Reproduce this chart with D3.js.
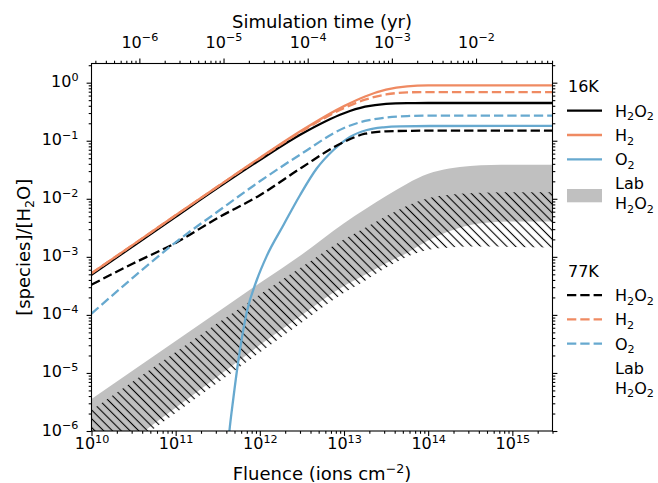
<!DOCTYPE html>
<html>
<head>
<meta charset="utf-8">
<title>Fluence vs species</title>
<script src="https://d3js.org/d3.v7.min.js"></script>
<style type="text/css">
body { margin: 0; background: #fff; }
text { font-family: "DejaVu Sans", sans-serif; fill: #000; }
.axis line { stroke: #000; stroke-width: 1.1; }
</style>
</head>
<body>
<div id="chart"></div>
<script>
// ---- data ----
// model grid (ions cm-2)
var fluence = [1e10, 3.16e10, 1e11, 3.16e11, 1e12, 3.16e12, 1e13, 1.78e13, 3.16e13, 5.62e13, 1e14, 3.16e14, 1e15, 3e15];
// 16K model (solid)
var h2o2_16K = [4.9e-4, 1.55e-3, 4.9e-3, 0.0154, 0.0466, 0.132, 0.298, 0.385, 0.432, 0.445, 0.447, 0.447, 0.447, 0.447];
var h2_16K   = [5.2e-4, 1.64e-3, 5.2e-3, 0.0163, 0.0506, 0.151, 0.395, 0.579, 0.756, 0.865, 0.897, 0.90, 0.90, 0.90];
// O2 16K has its own grid, it starts late
var fluenceO2 = [4.14e11, 4.35e11, 4.85e11, 5.57e11, 7.0e11, 9.2e11, 1.21e12, 1.91e12, 3.01e12, 4.76e12, 7.5e12, 1.19e13, 1.87e13, 2.95e13, 4.66e13, 1.06e14, 1e15, 3e15];
var o2_16K   = [4.7e-7, 1.0e-6, 3.7e-6, 1.67e-5, 1.12e-4, 3.99e-4, 1.04e-3, 3.54e-3, 0.01164, 0.0335, 0.0693, 0.1175, 0.153, 0.1706, 0.1774, 0.1795, 0.18, 0.18];
// 77K model (dashed)
var h2o2_77K = [3.31e-4, 7.76e-4, 1.74e-3, 4.68e-3, 0.0115, 0.0347, 0.0955, 0.132, 0.145, 0.148, 0.149, 0.149, 0.149, 0.149];
var h2_77K   = [5.2e-4, 1.64e-3, 5.2e-3, 0.0163, 0.050, 0.146, 0.365, 0.509, 0.626, 0.680, 0.689, 0.69, 0.69, 0.69];
var o2_77K   = [1.05e-4, 4.47e-4, 1.78e-3, 6.03e-3, 0.020, 0.0603, 0.166, 0.219, 0.251, 0.266, 0.27, 0.27, 0.27, 0.27];

// lab bands
var fluenceLab = [1e10, 3.16e10, 1e11, 3.16e11, 1e12, 3.16e12, 1e13, 1.78e13, 3.16e13, 5.62e13, 1e14, 1.78e14, 3.16e14, 5.62e14, 1e15, 3e15];
var lab16K_hi = [3.55e-6, 1.12e-5, 3.55e-5, 1.12e-4, 3.55e-4, 1.10e-3, 3.80e-3, 6.61e-3, 0.0112, 0.0182, 0.0269, 0.0331, 0.0367, 0.0382, 0.0385, 0.0385];
var lab16K_lo = [2.09e-7, 7.24e-7, 2.51e-6, 8.71e-6, 3.02e-5, 1.0e-4, 3.16e-4, 4.9e-4, 7.76e-4, 1.17e-3, 1.91e-3, 2.75e-3, 3.55e-3, 3.94e-3, 4.07e-3, 4.07e-3];
var lab77K_hi = [2.29e-6, 7.24e-6, 2.29e-5, 7.24e-5, 2.24e-4, 6.76e-4, 2.0e-3, 3.16e-3, 5.01e-3, 7.59e-3, 0.0102, 0.0117, 0.01245, 0.0128, 0.0129, 0.0129];
var lab77K_lo = [1.86e-7, 6.17e-7, 2.04e-6, 6.76e-6, 2.24e-5, 7.41e-5, 2.4e-4, 3.89e-4, 6.46e-4, 1.0e-3, 1.32e-3, 1.45e-3, 1.5e-3, 1.5e-3, 1.48e-3, 1.45e-3];

// fluence -> simulation time (yr)
var yrPerFluence = 2.7e-17;

var orange = "#ef8a62", blue = "#67a9cf", grey = "#c0c0c0";

var margin = {top: 63.5, right: 105.5, bottom: 52, left: 91.5},
    width = 658 - margin.left - margin.right,
    height = 483 - margin.top - margin.bottom;

var root = d3.select("#chart")
  .append("svg")
    .attr("width", 658)
    .attr("height", 483);

var svg = root.append("g")
    .attr("transform", "translate(" + margin.left + "," + margin.top + ")");

var x = d3.scaleLog().domain([1e10, 3e15]).range([0, width]);
var y = d3.scaleLog().domain([1e-6, 2.14]).range([height, 0]);
var xt = d3.scaleLog().domain([1e10 * yrPerFluence, 3e15 * yrPerFluence]).range([0, width]);

// text with sub/superscripts, parts = [[str, 0|1(sub)|-1(sup)]]
function rich(sel, parts, size) {
  var cur = 0;
  parts.forEach(function(p) {
    var sh = p[1] === 1 ? 0.22 * size : (p[1] === -1 ? -0.38 * size : 0);
    sel.append("tspan")
      .attr("dy", sh - cur)
      .attr("font-size", p[1] ? size * 0.7 : size)
      .text(p[0]);
    cur = sh;
  });
  return sel;
}

function isMajor(d) {
  var e = Math.log10(d);
  return Math.abs(e - Math.round(e)) < 1e-6;
}
function powLabel(d) {
  var e = Math.round(Math.log10(d));
  return e < 0 ? "\u2212" + (-e) : "" + e;
}

// axis: minor + major ticks, labels drawn as 10^n
function drawAxis(axisFn, scale, transform, labels) {
  var all = scale.ticks();
  var minor = all.filter(function(d) { return !isMajor(d); });
  var major = all.filter(isMajor);
  svg.append("g").attr("class", "axis").attr("transform", transform)
    .call(axisFn(scale).tickValues(minor).tickSize(2.8).tickSizeOuter(0).tickFormat(""))
    .call(function(g) { g.select(".domain").remove(); });
  var g = svg.append("g").attr("class", "axis").attr("transform", transform)
    .call(axisFn(scale).tickValues(major).tickSize(4.9).tickSizeOuter(0).tickFormat(""))
    .call(function(g) { g.select(".domain").remove(); });
  if (labels) {
    g.selectAll(".tick").each(function(d) {
      var t = d3.select(this).append("text")
        .attr("x", labels.x).attr("y", labels.y)
        .attr("text-anchor", labels.anchor)
        .attr("font-size", 16);
      rich(t, [["10", 0], [powLabel(d), -1]], 16);
    });
  }
}

drawAxis(d3.axisBottom, x, "translate(0," + height + ")", {x: 0, y: 18.3, anchor: "middle"});
drawAxis(d3.axisLeft, y, "translate(0,0)", {x: -13, y: 4, anchor: "end"});
drawAxis(d3.axisRight, y, "translate(" + width + ",0)", null);
drawAxis(d3.axisTop, xt, "translate(0,0)", {x: 0, y: -16, anchor: "middle"});

// hatch for 77K lab data
var defs = root.append("defs");
defs.append("clipPath").attr("id", "plotclip")
  .append("rect").attr("width", width).attr("height", height);
defs.append("pattern")
    .attr("id", "hatch")
    .attr("patternUnits", "userSpaceOnUse")
    .attr("width", 6.2).attr("height", 6.2)
    .attr("patternTransform", "rotate(-45)")
  .append("line")
    .attr("x1", 3.1).attr("y1", 0).attr("x2", 3.1).attr("y2", 6.2)
    .attr("stroke", "#000").attr("stroke-width", 1.1);

var plot = svg.append("g").attr("clip-path", "url(#plotclip)");

function band(lo, hi) {
  return d3.area()
    .x(function(d, i) { return x(fluenceLab[i]); })
    .y0(function(d, i) { return y(lo[i]); })
    .y1(function(d, i) { return y(hi[i]); })
    .curve(d3.curveMonotoneX)(fluenceLab);
}

plot.append("path").attr("d", band(lab16K_lo, lab16K_hi)).attr("fill", grey);
plot.append("path").attr("d", band(lab77K_lo, lab77K_hi)).attr("fill", "url(#hatch)");

function curve(xs, ys) {
  return d3.line()
    .x(function(d, i) { return x(xs[i]); })
    .y(function(d, i) { return y(ys[i]); })
    .curve(d3.curveMonotoneX)(xs);
}

var series = [
  {xs: fluence, ys: h2o2_16K, c: "#000", dash: null},
  {xs: fluence, ys: h2_16K, c: orange, dash: null},
  {xs: fluenceO2, ys: o2_16K, c: blue, dash: null},
  {xs: fluence, ys: h2o2_77K, c: "#000", dash: "9.3,4"},
  {xs: fluence, ys: h2_77K, c: orange, dash: "9.3,4"},
  {xs: fluence, ys: o2_77K, c: blue, dash: "9.3,4"}
];
series.forEach(function(s) {
  plot.append("path")
    .attr("d", curve(s.xs, s.ys))
    .attr("fill", "none")
    .attr("stroke", s.c)
    .attr("stroke-width", 2.3)
    .attr("stroke-dasharray", s.dash);
});

// frame
svg.append("rect")
  .attr("width", width).attr("height", height)
  .attr("fill", "none").attr("stroke", "#000").attr("stroke-width", 1.1);

// axis labels
rich(root.append("text").attr("x", 322).attr("y", 480).attr("text-anchor", "middle").attr("font-size", 18),
  [["Fluence (ions cm", 0], ["\u22122", -1], [")", 0]], 18);
root.append("text").attr("x", 322).attr("y", 28).attr("text-anchor", "middle").attr("font-size", 18)
  .text("Simulation time (yr)");
rich(root.append("text").attr("text-anchor", "middle").attr("font-size", 18)
    .attr("transform", "translate(30," + (margin.top + height / 2) + ")rotate(-90)"),
  [["[species]/[H", 0], ["2", 1], ["O]", 0]], 18);

// legends
var h2o2 = [["H", 0], ["2", 1], ["O", 0], ["2", 1]];
var h2 = [["H", 0], ["2", 1]];
var o2 = [["O", 0], ["2", 1]];

function legend(title, top, dash) {
  root.append("text").attr("x", 568).attr("y", top).attr("font-size", 16).text(title);
  var rows = [{p: h2o2, c: "#000"}, {p: h2, c: orange}, {p: o2, c: blue}];
  rows.forEach(function(r, i) {
    var ly = top + 18.4 + i * 24.3;
    root.append("line")
      .attr("x1", 567).attr("x2", 602).attr("y1", ly).attr("y2", ly)
      .attr("stroke", r.c).attr("stroke-width", 2.3)
      .attr("stroke-dasharray", dash);
    rich(root.append("text").attr("x", 615).attr("y", ly + 6).attr("font-size", 16), r.p, 16);
  });
  if (!dash) {
    root.append("rect").attr("x", 567).attr("y", top + 96.7).attr("width", 35).attr("height", 13.3)
      .attr("fill", grey);
  }
  root.append("text").attr("x", 615).attr("y", top + 97).attr("font-size", 16).text("Lab");
  rich(root.append("text").attr("x", 615).attr("y", top + 117).attr("font-size", 16), h2o2, 16);
}
legend("16K", 92.3, null);
legend("77K", 276.7, "9.3,4");
</script>
</body>
</html>
